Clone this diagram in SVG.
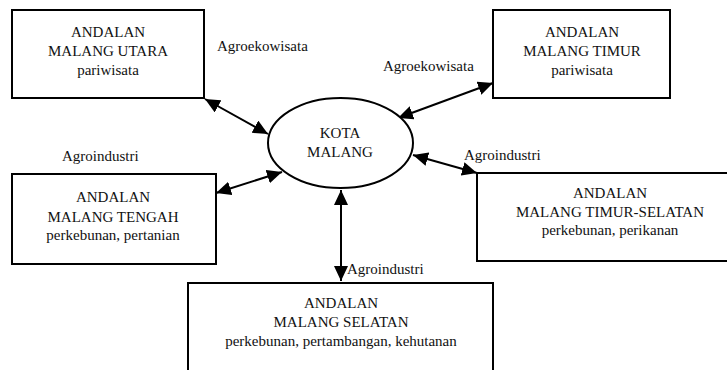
<svg xmlns="http://www.w3.org/2000/svg" width="727" height="370" viewBox="0 0 727 370">
<defs>
<marker id="ah" markerUnits="userSpaceOnUse" markerWidth="16" markerHeight="14" refX="15" refY="7" orient="auto-start-reverse">
<path d="M0,0 L15,7 L0,14 z" fill="#000"/>
</marker>
</defs>
<rect width="727" height="370" fill="#fff"/>
<g id="connectors" stroke="#000" stroke-width="2" fill="none" marker-start="url(#ah)" marker-end="url(#ah)">
<line x1="205" y1="99" x2="268" y2="134"/>
<line x1="398" y1="118" x2="493" y2="83"/>
<line x1="216" y1="193" x2="282" y2="172"/>
<line x1="413" y1="155" x2="477" y2="173"/>
<line x1="341" y1="190" x2="341" y2="281"/>
</g>
<g id="labels" fill="#111">
<text font-family="Liberation Serif" font-size="15" x="217" y="51">Agroekowisata</text>
<text font-family="Liberation Serif" font-size="15" x="383" y="71">Agroekowisata</text>
<text font-family="Liberation Serif" font-size="15" x="62" y="161">Agroindustri</text>
<text font-family="Liberation Serif" font-size="15" x="464" y="160">Agroindustri</text>
<text font-family="Liberation Serif" font-size="15" x="347" y="274">Agroindustri</text>
</g>
<g id="kota" fill="#111" text-anchor="middle">
<ellipse cx="340.5" cy="143" rx="72.5" ry="45" fill="#fff" stroke="#000" stroke-width="2"/>
<text font-family="Liberation Serif" font-size="15" x="340" y="138">KOTA</text>
<text font-family="Liberation Serif" font-size="15" x="340" y="157">MALANG</text>
</g>
<g id="utara" fill="#111" text-anchor="middle">
<rect x="12" y="10" width="192" height="88" fill="#fff" stroke="#000" stroke-width="2"/>
<text font-family="Liberation Serif" font-size="15" x="108" y="37">ANDALAN</text>
<text font-family="Liberation Serif" font-size="15" x="108" y="56">MALANG UTARA</text>
<text font-family="Liberation Serif" font-size="15" x="108" y="75">pariwisata</text>
</g>
<g id="timur" fill="#111" text-anchor="middle">
<rect x="493" y="10" width="177" height="88" fill="#fff" stroke="#000" stroke-width="2"/>
<text font-family="Liberation Serif" font-size="15" x="582" y="37">ANDALAN</text>
<text font-family="Liberation Serif" font-size="15" x="582" y="56">MALANG TIMUR</text>
<text font-family="Liberation Serif" font-size="15" x="582" y="75">pariwisata</text>
</g>
<g id="tengah" fill="#111" text-anchor="middle">
<rect x="12" y="174" width="204" height="90" fill="#fff" stroke="#000" stroke-width="2"/>
<text font-family="Liberation Serif" font-size="15" x="113" y="202">ANDALAN</text>
<text font-family="Liberation Serif" font-size="15" x="113" y="222">MALANG TENGAH</text>
<text font-family="Liberation Serif" font-size="15" x="113" y="240">perkebunan, pertanian</text>
</g>
<g id="timur-selatan" fill="#111" text-anchor="middle">
<rect x="477" y="173" width="270" height="88" fill="#fff" stroke="#000" stroke-width="2"/>
<text font-family="Liberation Serif" font-size="15" x="610" y="198">ANDALAN</text>
<text font-family="Liberation Serif" font-size="15" x="610" y="217">MALANG TIMUR-SELATAN</text>
<text font-family="Liberation Serif" font-size="15" x="610" y="235">perkebunan, perikanan</text>
</g>
<g id="selatan" fill="#111" text-anchor="middle">
<rect x="188" y="283" width="305" height="100" fill="#fff" stroke="#000" stroke-width="2"/>
<text font-family="Liberation Serif" font-size="15" x="341" y="308">ANDALAN</text>
<text font-family="Liberation Serif" font-size="15" x="341" y="327">MALANG SELATAN</text>
<text font-family="Liberation Serif" font-size="15" x="341" y="346">perkebunan, pertambangan, kehutanan</text>
</g>
</svg>
